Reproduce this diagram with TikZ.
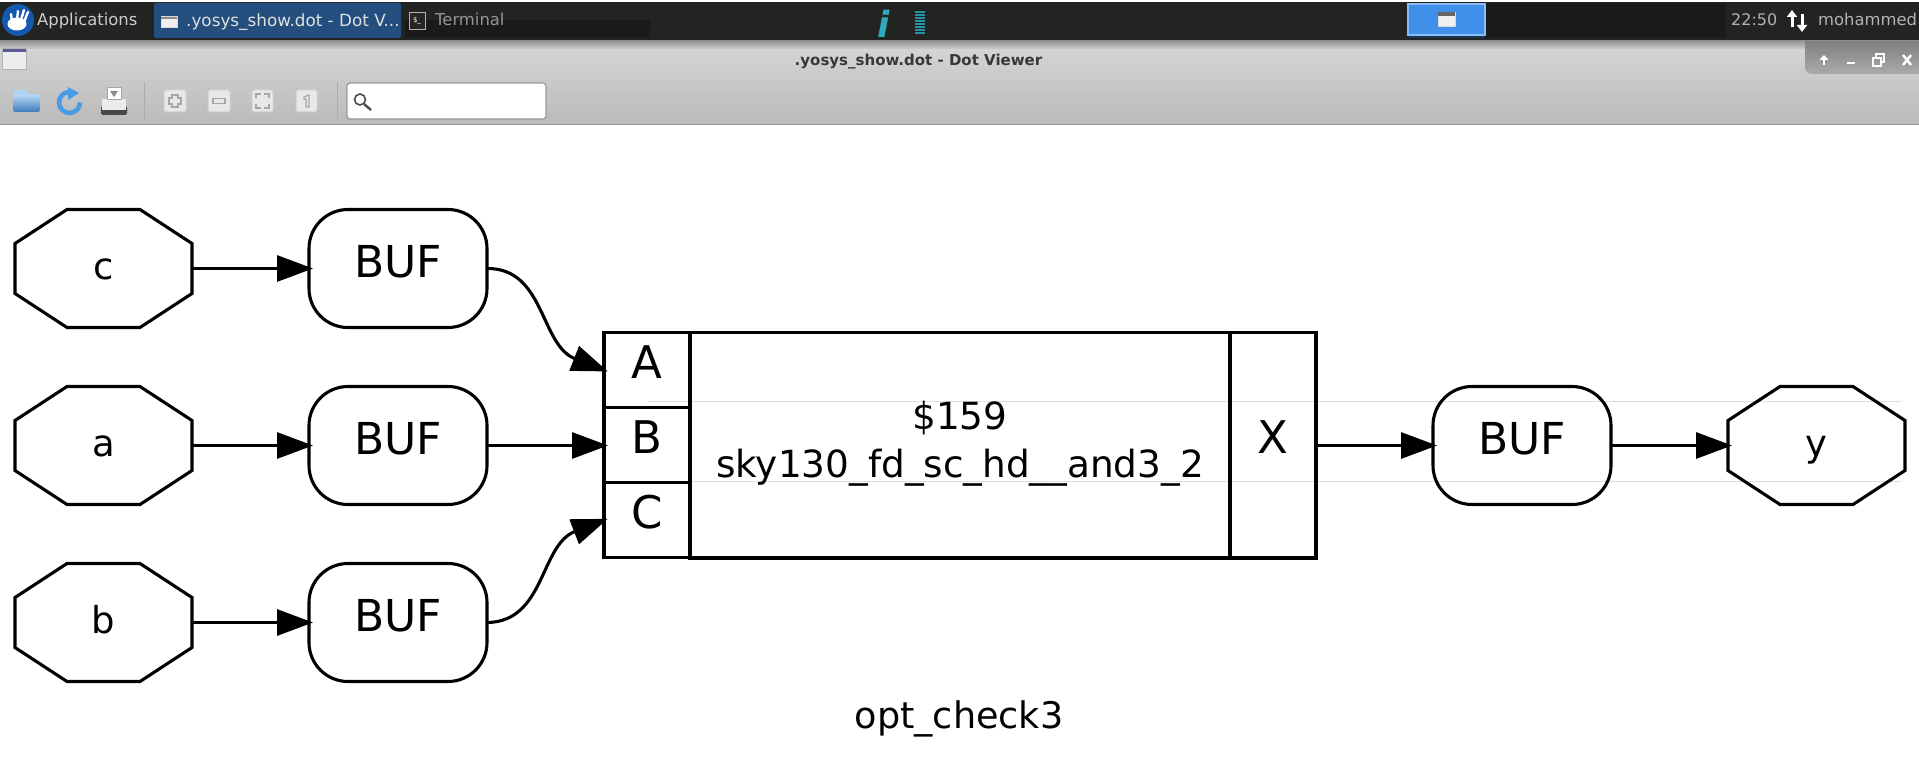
\documentclass[tikz,border=0pt]{standalone}
\usepackage{fontspec}
\setmainfont{DejaVu Sans}
\usepackage{xcolor}
\usetikzlibrary{positioning,arrows.meta,calc}

\definecolor{paneldark}{HTML}{212421}
\definecolor{paneldeep}{HTML}{191B19}
\definecolor{taskblue}{HTML}{234E7E}
\definecolor{pagerblue}{HTML}{3F90EA}
\definecolor{infoteal}{HTML}{2FA9BC}
\definecolor{logoblue}{HTML}{1558B0}
\definecolor{iconblue}{HTML}{4A9BE6}

\tikzset{
    wire/.style={line width=3.1pt, black},
    link/.style={wire, -{Triangle[length=36pt,width=26pt]}, shorten >=-4pt},
    octnode/.style={inner sep=0pt, outer sep=0pt, minimum height=118pt, text width=177pt,
        align=center, text height=70pt, text depth=48pt, font=\fontsize{37}{37}\selectfont},
    bufnode/.style={wire, draw, rounded corners=39pt, inner sep=0pt, outer sep=0pt, text width=178pt,
        align=center, text height=68pt, text depth=50pt, font=\fontsize{44}{44}\selectfont},
    portcell/.style={wire, draw, inner sep=0pt, outer sep=0pt, text width=86pt,
        align=center, text height=45.5pt, text depth=29.5pt, font=\fontsize{45}{45}\selectfont},
    celltext/.style={inner sep=0pt, anchor=base, font=\fontsize{37.4}{37.4}\selectfont},
    paneltext/.style={inner sep=0pt, anchor=base west, font=\fontsize{16.4}{16.4}\selectfont},
    toolbtn/.style={draw=black!18, fill=black!9, line width=1pt, rounded corners=2.5pt},
    toolmark/.style={draw=black!35, line width=1.2pt},
    faintline/.style={draw=black!13, line width=1pt},
}

\begin{document}
\begin{tikzpicture}[x=1pt,y=-1pt]
    \useasboundingbox (0,0) rectangle (1919,773);
    \fill[white] (0,0) rectangle (1919,773);

    % desktop panel
    \fill[paneldark] (0,2) rectangle (1919,41);
    \fill[paneldeep] (405,20) rectangle (650,38);
    \fill[paneldeep] (1485,3) rectangle (1726,38);
    \fill[logoblue] (18,20) circle (16);
    \fill[white] (17,24) ellipse (9.5 and 6.5);
    \draw[white, line width=2.4pt, line cap=round] (12,22) -- (11,14) (17,20) -- (18,11) (21,20) -- (24,10) (24,22) -- (28,12);
    \node[paneltext, text=black!20] (appslbl) at (37,25.5) {Applications};
    \fill[taskblue, rounded corners=1.5pt] (154,3) rectangle (401,38);
    \draw[black!15, fill=black!6, line width=1pt] (161,17) rectangle (177,28);
    \fill[black!45] (161,17) rectangle (177,19);
    \node[paneltext, text=black!12, font=\fontsize{16.8}{16.8}\selectfont] (tasklbl) at (186,26.5) {.yosys\_show.dot - Dot V...};
    \draw[black!30, fill=black!85, line width=1pt] (409.5,13) rectangle (425.5,30);
    \node[inner sep=0pt, text=white, font=\fontsize{7}{7}\selectfont] (termmark) at (417,21) {\$\_};
    \node[paneltext, text=black!42] (termlbl) at (435,25.5) {Terminal};
    \node[inner sep=0pt, text=infoteal, font=\fontsize{36}{36}\selectfont\bfseries\itshape] (infomark) at (884,23.5) {i};
    \foreach \y in {12.5,15.5,...,36}
        \draw[infoteal!85!black, line width=2pt] (915,\y) -- (925,\y);
    \fill[taskblue!70!black] (1408,34) rectangle (1485,38);
    \draw[pagerblue!60!white, fill=pagerblue, line width=1.2pt] (1408,4) rectangle (1485,35);
    \draw[white!85!black, fill=black!6, line width=1pt] (1438,13) rectangle (1455,27);
    \fill[black!60] (1438,12.5) rectangle (1455,16);
    \node[paneltext, text=black!30, font=\fontsize{16}{16}\selectfont] (timelbl) at (1731,25.5) {22:50};
    \draw[white, line width=3pt, -{Triangle[length=7pt,width=10pt]}] (1792,27) -- (1792,10);
    \draw[white, line width=3pt, -{Triangle[length=7pt,width=10pt]}] (1802,14) -- (1802,32);
    \node[paneltext, text=black!30] (userlbl) at (1818,25.5) {mohammed};

    % window title and toolbar
    \shade[top color=black!42, bottom color=black!17] (0,41) rectangle (1919,50);
    \shade[top color=black!17, bottom color=black!27] (0,50) rectangle (1919,124);
    \draw[black!42, line width=1pt] (0,124.5) -- (1919,124.5);
    \draw[black!30, fill=black!7, line width=1pt] (2.5,48.5) rectangle (26,70);
    \fill[blue!35!black!65] (3,49) rectangle (25.5,52);
    \node[inner sep=0pt, anchor=base, text=black!78, font=\fontsize{15}{15}\selectfont\bfseries] (titlelbl) at (918.5,65.5) {.yosys\_show.dot - Dot Viewer};
    \shade[top color=black!50, bottom color=black!33] (1805,41) -- (1805,67) .. controls (1805,72) and (1808,74) .. (1813,74) -- (1919,74) -- (1919,41) -- cycle;
    \draw[white, line width=2.5pt, -{Triangle[length=5pt,width=9pt]}] (1824,65) -- (1824,55);
    \draw[white, line width=2pt] (1847,63.5) -- (1855,63.5);
    \draw[white, line width=1.4pt] (1873,58) rectangle (1881,66) (1876,58) -- (1876,54) -- (1884,54) -- (1884,62) -- (1881,62);
    \draw[white, line width=2.4pt] (1903,55) -- (1911,65) (1911,55) -- (1903,65);

    \fill[iconblue!45!white, rounded corners=1.5pt] (13,90) -- (26,90) -- (28,94) -- (40,94) -- (40,100) -- (13,100) -- cycle;
    \shade[top color=iconblue!40!white, bottom color=iconblue!80!black, rounded corners=1.5pt] (13,95) rectangle (40,112);
    \draw[iconblue, line width=4.6pt] (80,102.5) arc[start angle=0, end angle=265, radius=10.5];
    \fill[iconblue] (68,87) -- (79,93) -- (68,100) -- cycle;
    \fill[black!72, rounded corners=2pt] (101,106) rectangle (127,115);
    \fill[black!8] (102,99) rectangle (126,110);
    \draw[black!35, fill=white, line width=1pt] (107,88) rectangle (121,100);
    \fill[black!45] (110,91) -- (118,91) -- (114,97) -- cycle;
    \draw[black!33, line width=1pt] (144,82) -- (144,119);
    \draw[toolbtn] (164,90) rectangle (186,112);
    \draw[toolmark] (172,95) -- (178,95) -- (178,98) -- (181,98) -- (181,104) -- (178,104) -- (178,107) -- (172,107) -- (172,104) -- (169,104) -- (169,98) -- (172,98) -- cycle;
    \draw[toolbtn] (208,90) rectangle (230,112);
    \draw[toolmark] (213,98.5) rectangle (225,103.5);
    \draw[toolbtn] (252,90) rectangle (273,112);
    \draw[toolmark] (256,98) -- (256,94) -- (261,94) (264,94) -- (269,94) -- (269,98) (269,104) -- (269,108) -- (264,108) (261,108) -- (256,108) -- (256,104);
    \draw[toolbtn] (296,90) rectangle (317,112);
    \draw[toolmark] (304,97) -- (309,95) -- (309,107) -- (306,107) -- (306,99) -- (304,99) -- cycle;
    \draw[black!33, line width=1pt] (337,82) -- (337,119);
    \draw[black!40, fill=white, line width=1.2pt, rounded corners=3pt] (347,83) rectangle (546,119);
    \draw[black!70, line width=1.6pt] (360,99.5) circle (5.5);
    \draw[black!70, line width=2.4pt] (364,104) -- (371,110);

    % faint scan lines
    \draw[faintline] (648,401) -- (1901,401);
    \draw[faintline] (690,481) -- (1901,481);

    % input and output pins
    \node[octnode] (inc) at (103.5,268.5) {c};
    \node[octnode] (ina) at (103.5,445.5) {a};
    \node[octnode] (inb) at (103.5,622.5) {b};
    \node[octnode] (outy) at (1816.5,445.5) {y};
    \foreach \n in {inc,ina,inb,outy}
        \draw[wire] ($(\n.west)+(0,-25)$) -- ($(\n.north west)+(52,0)$) -- ($(\n.north east)+(-52,0)$)
            -- ($(\n.east)+(0,-25)$) -- ($(\n.east)+(0,25)$) -- ($(\n.south east)+(-52,0)$)
            -- ($(\n.south west)+(52,0)$) -- ($(\n.west)+(0,25)$) -- cycle;

    % buffers
    \node[bufnode] (bufc) at (398,268.5) {BUF};
    \node[bufnode] (bufa) at (398,445.5) {BUF};
    \node[bufnode] (bufb) at (398,622.5) {BUF};
    \node[bufnode] (bufy) at (1522,445.5) {BUF};

    % and3 cell
    \node[portcell] (portA) at (647,370) {A};
    \node[portcell] (portB) at (647,445) {B};
    \node[portcell] (portC) at (647,520.25) {C};
    \node[portcell, text height=120.5pt, text depth=105pt] (portX) at (1273,445.25) {X};
    \node[wire, draw, minimum width=540pt, minimum height=225.5pt, inner sep=0pt, outer sep=0pt] (core) at (960,445.25) {};
    \node[celltext] (coreid) at (960,429) {\$159};
    \node[celltext] (coretype) at (960,477) {sky130\_fd\_sc\_hd\_\_and3\_2};

    % connections
    \draw[link] (inc.east) -- (bufc.west);
    \draw[link] (ina.east) -- (bufa.west);
    \draw[link] (inb.east) -- (bufb.west);
    \draw[link] (bufa.east) -- (portB.west |- bufa.east);
    \draw[link] (bufc.east) .. controls (545,268) and (540,345) .. (portA.west);
    \draw[link] (bufb.east) .. controls (545,622) and (540,545) .. (portC.west);
    \draw[link] (portX.east |- bufy.west) -- (bufy.west);
    \draw[link] (bufy.east) -- (outy.west);

    \node[celltext, font=\fontsize{36.6}{36.6}\selectfont] (caption) at (959,728) {opt\_check3};
\end{tikzpicture}
\end{document}
